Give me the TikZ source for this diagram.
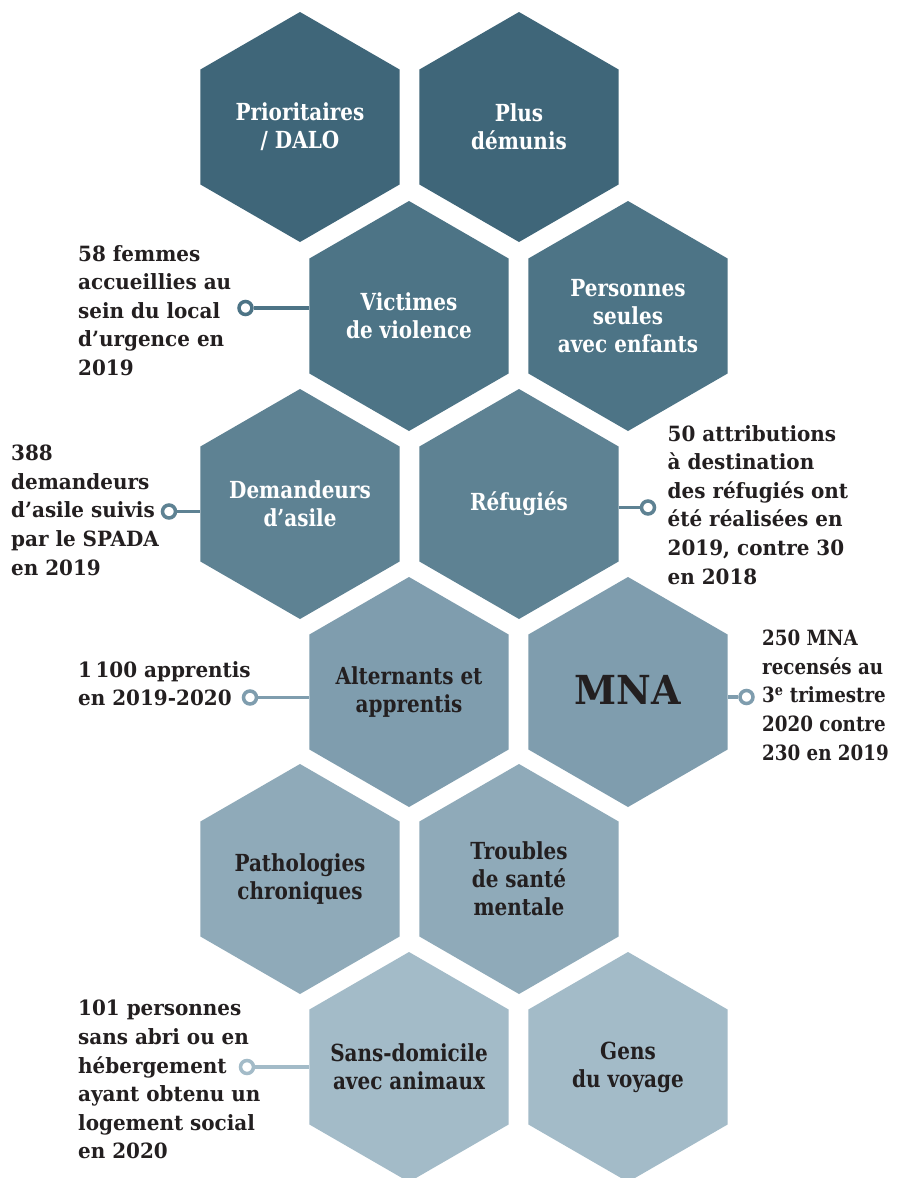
\documentclass[tikz,border=0pt]{standalone}
\usepackage{fontspec}
\setmainfont{DejaVu Serif}[FakeStretch=0.85]
\newfontfamily\notefont{DejaVu Serif}[FakeStretch=0.95]
\newfontfamily\narrownotefont{DejaVu Serif}[FakeStretch=0.87]
\definecolor{rowA}{HTML}{3F6679}
\definecolor{rowB}{HTML}{4D7486}
\definecolor{rowC}{HTML}{5E8293}
\definecolor{rowD}{HTML}{7F9DAE}
\definecolor{rowE}{HTML}{8FAAB9}
\definecolor{rowF}{HTML}{A3BBC8}
\definecolor{ink}{HTML}{231F20}
\tikzset{
  hexlabel/.style={align=center, inner sep=0pt, font=\fontsize{23.5}{28}\selectfont\bfseries},
  note/.style={align=left, anchor=north west, inner sep=0pt, text=ink, font=\notefont\fontsize{21}{28.6}\selectfont\bfseries},
  narrownote/.style={note, font=\narrownotefont\fontsize{21}{28.6}\selectfont\bfseries},
  dot/.style={circle, draw=#1, fill=white, line width=3.5pt, minimum size=13pt, inner sep=0pt},
  link/.style={draw=#1, line width=3.5pt},
}
\newcommand\hexcell[6]{%
  \fill[#4] (#2,#3) +(90:115) -- +(150:115) -- +(210:115) -- +(270:115) -- +(330:115) -- +(30:115) -- cycle;
  \node[hexlabel, text=#5] (#1) at (#2,#3) {#6};
  \coordinate (#1-W) at (#2-99.6,#3);
  \coordinate (#1-E) at (#2+99.6,#3);
}
\begin{document}
\begin{tikzpicture}[x=1pt,y=-1pt]
\useasboundingbox (0,0) rectangle (897,1178);
\clip (0,0) rectangle (897,1178);
\fill[white] (0,0) rectangle (897,1178);
% hexagons
\hexcell{h1}{300}{127}{rowA}{white}{Prioritaires\\/ DALO}
\hexcell{h2}{519}{127}{rowA}{white}{Plus\\démunis}
\hexcell{h3}{409}{316}{rowB}{white}{Victimes\\de violence}
\hexcell{h4}{628}{316}{rowB}{white}{Personnes\\seules\\avec enfants}
\hexcell{h5}{300}{504}{rowC}{white}{Demandeurs\\d’asile}
\hexcell{h6}{519}{504}{rowC}{white}{Réfugiés}
\hexcell{h7}{409}{692}{rowD}{ink}{Alternants et\\apprentis}
\hexcell{h8}{628}{692}{rowD}{ink}{}
\node[inner sep=0pt, text=ink, font=\notefont\fontsize{40}{44}\selectfont\bfseries] (mna) at (628,690) {MNA};
\hexcell{h9}{300}{879}{rowE}{ink}{Pathologies\\chroniques}
\hexcell{h10}{519}{879}{rowE}{ink}{Troubles\\de santé\\mentale}
\hexcell{h11}{409}{1067}{rowF}{ink}{Sans-domicile\\avec animaux}
\hexcell{h12}{628}{1067}{rowF}{ink}{Gens\\du voyage}
% notes
\node[note] (n1) at (78,245) {58 femmes\\accueillies au\\sein du local\\d’urgence en\\2019};
\node[note] (n2) at (11,445) {388\\demandeurs\\d’asile suivis\\par le SPADA\\en 2019};
\node[note] (n3) at (667.5,425) {50 attributions\\à destination\\des réfugiés ont\\été réalisées en\\2019, contre 30\\en 2018};
\node[note] (n4) at (78,661) {1\,100 apprentis\\en 2019-2020};
\node[narrownote] (n5) at (762,630) {250 MNA\\recensés au\\3\textsuperscript{e} trimestre\\2020 contre\\230 en 2019};
\node[note] (n6) at (78,1000) {101 personnes\\sans abri ou en\\hébergement\\ayant obtenu un\\logement social\\en 2020};
% connectors
\node[dot=rowB] (c1) at (245.5,308) {};
\draw[link=rowB] (c1) -- (c1 -| h3-W);
\node[dot=rowC] (c2) at (169,511.5) {};
\draw[link=rowC] (c2) -- (c2 -| h5-W);
\node[dot=rowC] (c3) at (648,507.5) {};
\draw[link=rowC] (c3) -- (c3 -| h6-E);
\node[dot=rowD] (c4) at (250,697.5) {};
\draw[link=rowD] (c4) -- (c4 -| h7-W);
\node[dot=rowD] (c5) at (746.5,697) {};
\draw[link=rowD] (c5) -- (c5 -| h8-E);
\node[dot=rowF] (c6) at (247,1067) {};
\draw[link=rowF] (c6) -- (c6 -| h11-W);
\end{tikzpicture}
\end{document}
